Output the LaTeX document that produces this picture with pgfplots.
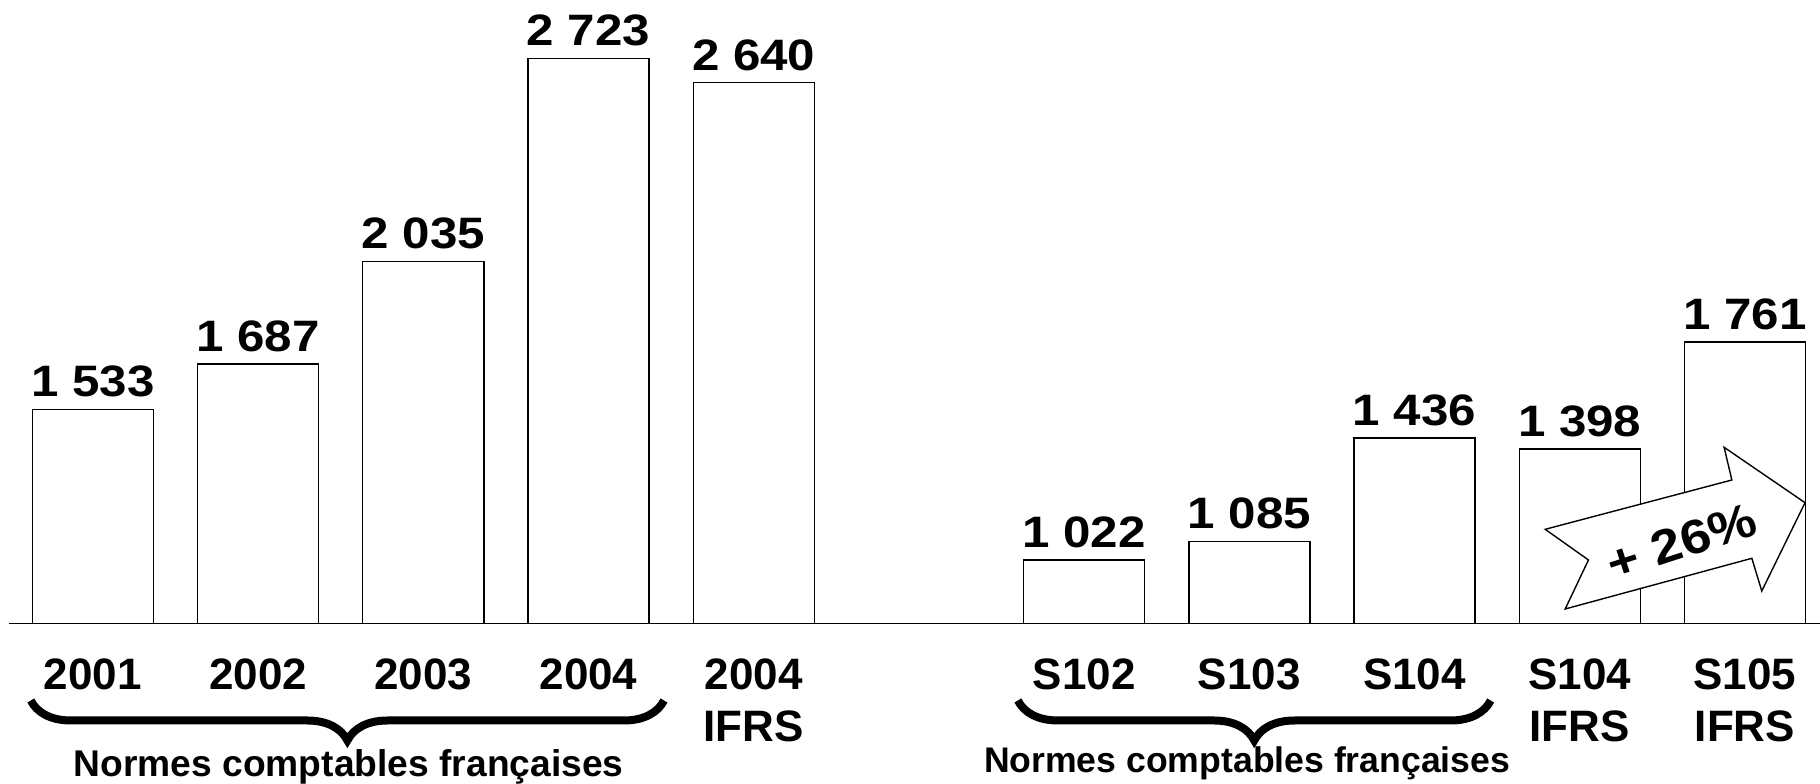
\documentclass[border=0pt]{standalone}
\usepackage{fontspec}
\setmainfont{Liberation Sans}
\usepackage{graphicx}
\usepackage{pgfplots}
\usepackage{pgfplotstable}
\pgfplotsset{compat=1.18}
\usetikzlibrary{decorations.pathreplacing}

% résultat (M EUR) : annuel puis semestriel
\pgfplotstableread{
x y
0 1533
1 1687
2 2035
3 2723
4 2640
6 1022
7 1085
8 1436
9 1398
10 1761
}\resultat

\begin{document}
\begin{tikzpicture}
\begin{axis}[
  scale only axis, width=452.67pt, height=154.36pt,
  xmin=-0.506, xmax=10.4546, ymin=807, ymax=2900,
  axis x line*=bottom, axis y line=none,
  x axis line style={line width=0.45pt,-},
  xtick={0,1,2,3,4,6,7,8,9,10},
  xticklabels={2001,2002,2003,2004,{2004\\IFRS},S102,S103,S104,{S104\\IFRS},{S105\\IFRS}},
  major tick length=0pt,
  xticklabel style={font=\fontsize{11}{12.9}\selectfont\bfseries, align=center,
    anchor=north, inner sep=0pt, yshift=-8.7pt},
  clip mode=individual,
]
\addplot[ybar, bar width=0.7326, fill=white, draw=black, line width=0.35pt,
  point meta=y,
  nodes near coords={\scalebox{1.12}[1]{\pgfmathprintnumber[fixed,precision=0,assume math mode=true,1000 sep={\ }]{\pgfplotspointmeta}}},
  nodes near coords style={font=\fontsize{11}{13}\selectfont\bfseries, anchor=south, inner sep=0pt, yshift=2.9pt},
] table {\resultat};

% flèche + 26%
\draw[fill=white, line width=0.35pt, line join=miter]
  (axis cs:8.791,1126.3) -- (axis cs:9.921,1293.4) -- (axis cs:9.874,1404.3)
  -- (axis cs:10.364,1216.5) -- (axis cs:10.102,917.2) -- (axis cs:10.042,1028)
  -- (axis cs:8.912,856.2) -- (axis cs:9.053,1022.3) -- cycle;
\node[rotate=18, font=\fontsize{12}{14}\selectfont\bfseries] at (axis cs:9.617,1084.3) {\scalebox{1.12}[1]{+ 26\%}};

% accolades
\draw[decorate, decoration={brace, mirror, amplitude=10pt}, line width=2pt]
  (axis cs:-0.376,546) -- (axis cs:3.457,546);
\draw[decorate, decoration={brace, mirror, amplitude=10pt}, line width=2pt]
  (axis cs:5.599,546) -- (axis cs:8.461,546);
\node[anchor=base, font=\fontsize{9.3}{11}\selectfont\bfseries] at (axis cs:1.548,287.7) {Normes comptables françaises};
\node[anchor=base, font=\fontsize{8.9}{11}\selectfont\bfseries] at (axis cs:6.987,302) {Normes comptables françaises};

\coordinate (bbl) at (axis cs:-0.5624,266.3);
\coordinate (btr) at (axis cs:10.4546,2920.6);
\end{axis}
\pgfresetboundingbox
\path (bbl) rectangle (btr);
\end{tikzpicture}
\end{document}
